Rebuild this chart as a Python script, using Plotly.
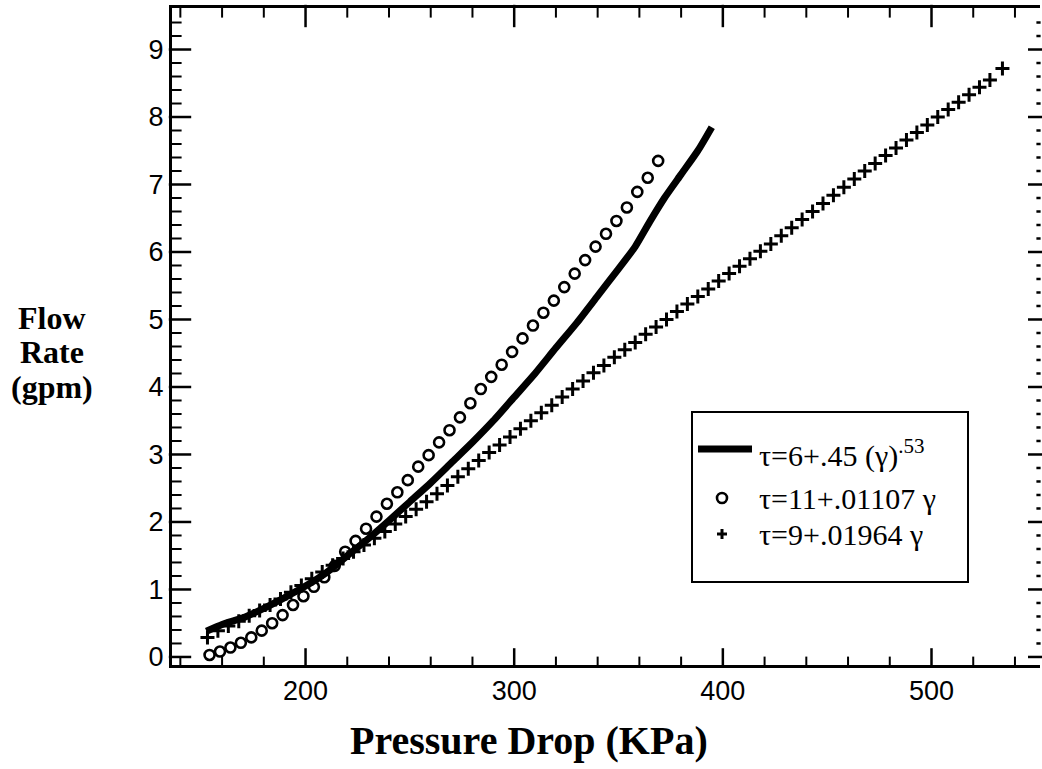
import plotly.graph_objects as go

# ---------------- data ----------------
line_x = [152.5, 160, 170, 180, 190, 200, 210, 220, 230, 240, 250, 260, 270, 280,
          290, 300, 310, 320, 330, 340, 350, 358, 365, 372, 380, 388, 394.7]
line_y = [0.38, 0.48, 0.58, 0.72, 0.88, 1.05, 1.25, 1.50, 1.75, 2.02, 2.30, 2.58, 2.88, 3.18,
          3.50, 3.85, 4.20, 4.58, 4.95, 5.35, 5.75, 6.08, 6.45, 6.80, 7.15, 7.50, 7.85]

circ_x = [154, 159, 164, 169, 174, 179, 184, 189, 194, 199, 204, 209, 214, 219, 224,
          229, 234, 239, 244, 249, 254, 259, 264, 269, 274, 279, 284, 289, 294, 299,
          304, 309, 314, 319, 324, 329, 334, 339, 344, 349, 354, 359, 364, 369]
circ_y = [0.03, 0.08, 0.14, 0.21, 0.29, 0.39, 0.50, 0.62, 0.77, 0.90, 1.04, 1.18, 1.35, 1.56, 1.72,
          1.90, 2.08, 2.27, 2.44, 2.62, 2.82, 2.99, 3.18, 3.36, 3.55, 3.76, 3.97, 4.15, 4.33, 4.52,
          4.72, 4.91, 5.10, 5.28, 5.48, 5.68, 5.88, 6.08, 6.27, 6.46, 6.66, 6.89, 7.10, 7.35]

plus_x = [153, 158, 163, 168, 173, 178, 183, 188, 193, 198, 203, 208, 213, 218, 223, 228,
          233, 238, 243, 248, 253, 258, 263, 268, 273, 278, 283, 288, 293, 298, 303, 308,
          313, 318, 323, 328, 333, 338, 343, 348, 353, 358, 363, 368, 373, 378, 383, 388,
          393, 398, 403, 408, 413, 418, 423, 428, 433, 438, 443, 448, 453, 458, 463, 468,
          473, 478, 483, 488, 493, 498, 503, 508, 513, 518, 523, 528, 534]
plus_y = [0.29, 0.39, 0.46, 0.53, 0.61, 0.69, 0.77, 0.86, 0.96, 1.06, 1.16, 1.26, 1.36, 1.46, 1.56, 1.66,
          1.76, 1.86, 1.97, 2.08, 2.19, 2.30, 2.42, 2.54, 2.67, 2.79, 2.91, 3.03, 3.14, 3.26, 3.38, 3.50,
          3.62, 3.73, 3.85, 3.97, 4.09, 4.21, 4.32, 4.44, 4.55, 4.66, 4.78, 4.89, 5.00, 5.12, 5.23, 5.34,
          5.45, 5.57, 5.68, 5.79, 5.90, 6.01, 6.12, 6.24, 6.36, 6.48, 6.60, 6.72, 6.84, 6.96, 7.08, 7.20,
          7.31, 7.43, 7.54, 7.66, 7.77, 7.88, 8.00, 8.11, 8.22, 8.33, 8.44, 8.55, 8.72]

legend_labels = ["τ=6+.45 (γ)<sup>.53</sup>", "τ=11+.01107 γ", "τ=9+.01964 γ"]
x_title = "Pressure Drop (KPa)"
y_title_lines = ["Flow", "Rate", "(gpm)"]

# tick positions
x_major = [200, 300, 400, 500]
x_minor = [140, 160, 180, 220, 240, 260, 280, 320, 340, 360, 380,
           420, 440, 460, 480, 520, 540]
y_major = [0, 1, 2, 3, 4, 5, 6, 7, 8, 9]
y_minor = [0.2, 0.4, 0.6, 0.8, 1.2, 1.4, 1.6, 1.8, 2.2, 2.4, 2.6, 2.8, 3.2, 3.4, 3.6, 3.8,
           4.2, 4.4, 4.6, 4.8, 5.2, 5.4, 5.6, 5.8, 6.2, 6.4, 6.6, 6.8, 7.2, 7.4, 7.6, 7.8,
           8.2, 8.4, 8.6, 8.8, 9.2, 9.4]

# ---------------- figure ----------------
W, H = 1042, 769
ML, MR, MT, MB = 172, 2, 8, 104
PW, PH = W - ML - MR, H - MT - MB
XR = [136, 552]
YR = [-0.119, 9.615]
UX = (XR[1] - XR[0]) / PW   # data units per pixel
UY = (YR[1] - YR[0]) / PH


def px(xp):
    return (xp - ML) / PW


def py(yp):
    return (H - MB - yp) / PH


fig = go.Figure()
fig.add_trace(go.Scatter(x=line_x, y=line_y, mode="lines", line_shape="spline",
                         line=dict(color="black", width=7, smoothing=0.6), showlegend=False))
fig.add_trace(go.Scatter(x=circ_x, y=circ_y, mode="markers",
                         marker=dict(symbol="circle-open", size=10, color="black",
                                     line=dict(width=2.6, color="black")),
                         showlegend=False))
fig.add_trace(go.Scatter(x=plus_x, y=plus_y, mode="markers",
                         marker=dict(symbol="cross-thin", size=10, color="black",
                                     line=dict(width=3, color="black")),
                         showlegend=False))


def tick_trace(xs, ys, symbol, length, width):
    return go.Scatter(x=xs, y=ys, mode="markers", cliponaxis=False, showlegend=False,
                      hoverinfo="skip",
                      marker=dict(symbol=symbol, size=length, color="black",
                                  line=dict(width=width, color="black")))


# inward tick marks on all four sides, positioned through the axis scales
fig.add_trace(tick_trace(x_major, [YR[0] + 7 * UY] * len(x_major), "line-ns", 14, 2.5))
fig.add_trace(tick_trace(x_major, [YR[1] - 8 * UY] * len(x_major), "line-ns", 16, 2.5))
fig.add_trace(tick_trace(x_minor, [YR[0] + 3.5 * UY] * len(x_minor), "line-ns", 7, 2))
fig.add_trace(tick_trace(x_minor, [YR[1] - 4 * UY] * len(x_minor), "line-ns", 8, 2))
fig.add_trace(tick_trace([XR[0] + 8 * UX] * len(y_major), y_major, "line-ew", 16, 2.5))
fig.add_trace(tick_trace([XR[0] + 4 * UX] * len(y_minor), y_minor, "line-ew", 8, 2))
fig.add_trace(tick_trace([XR[1] - 5 * UX] * len(y_major), y_major, "line-ew", 10, 2.5))
fig.add_trace(tick_trace([XR[1] - 1.5 * UX] * len(y_minor), y_minor, "line-ew", 3, 2.5))

tickfont = dict(family="Liberation Sans", size=27, color="black")
fig.update_layout(
    template="none",
    width=W, height=H,
    margin=dict(l=ML, r=MR, t=MT, b=MB),
    paper_bgcolor="white", plot_bgcolor="white",
    xaxis=dict(range=XR, tickvals=x_major, ticks="",
               showline=True, linewidth=3, linecolor="black",
               mirror=True, showgrid=False, zeroline=False, tickfont=tickfont),
    yaxis=dict(range=YR, tickvals=y_major, ticks="",
               showline=True, linewidth=3, linecolor="black",
               mirror=False, showgrid=False, zeroline=False, tickfont=tickfont),
    showlegend=False,
)

shapes = []
# legend box
shapes.append(dict(type="rect", xref="paper", yref="paper", x0=px(692), x1=px(968),
                   y0=py(582), y1=py(412), line=dict(color="black", width=2),
                   fillcolor="white", layer="above"))
# legend line sample
shapes.append(dict(type="line", xref="paper", yref="paper", x0=px(698), x1=px(752),
                   y0=py(449), y1=py(449), line=dict(color="black", width=7), layer="above"))
# legend circle marker
shapes.append(dict(type="circle", xref="paper", yref="paper", xsizemode="pixel",
                   ysizemode="pixel", xanchor=px(722), yanchor=py(498), x0=-5, x1=5, y0=-5, y1=5,
                   line=dict(color="black", width=2.6), layer="above"))
# legend plus marker
for dx0, dx1, dy0, dy1 in [(-5, 5, 0, 0), (0, 0, -5, 5)]:
    shapes.append(dict(type="line", xref="paper", yref="paper", xsizemode="pixel",
                       ysizemode="pixel", xanchor=px(722), yanchor=py(534),
                       x0=dx0, x1=dx1, y0=dy0, y1=dy1,
                       line=dict(color="black", width=3), layer="above"))
fig.update_layout(shapes=shapes)

annotations = []
for lab, yp in zip(legend_labels, [453, 498, 534]):
    annotations.append(dict(text=lab, xref="paper", yref="paper", x=px(757), y=py(yp),
                            xanchor="left", yanchor="middle", showarrow=False,
                            font=dict(family="Liberation Serif", size=30, color="black")))
annotations.append(dict(text="<b>" + x_title + "</b>", xref="paper", yref="paper",
                        x=px(529), y=py(740), xanchor="center", yanchor="middle",
                        showarrow=False,
                        font=dict(family="Liberation Serif", size=40, color="black")))
for s, yp in zip(y_title_lines, [318, 352, 387]):
    annotations.append(dict(text="<b>" + s + "</b>", xref="paper", yref="paper",
                            x=px(52), y=py(yp), xanchor="center", yanchor="middle",
                            showarrow=False,
                            font=dict(family="Liberation Serif", size=32, color="black")))
fig.update_layout(annotations=annotations)

fig.write_html("out.html")
